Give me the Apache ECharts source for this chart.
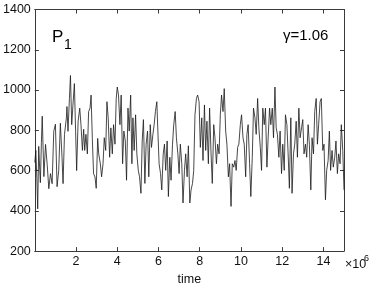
<!DOCTYPE html>
<html>
<head>
<meta charset="utf-8">
<script src="https://cdn.jsdelivr.net/npm/echarts@6/dist/echarts.min.js"></script>
<style>
html,body{margin:0;padding:0;background:#fff;}
#c{width:374px;height:291px;}
</style>
</head>
<body>
<div id="c"></div>
<script>
// time in units of 10^6
var times = [0.00,0.05,0.10,0.14,0.19,0.24,0.27,0.32,0.36,0.44,0.52,0.60,0.68,0.76,0.84,0.92,1.00,1.08,1.16,1.24,1.32,1.37,1.44,1.53,1.56,1.61,1.68,1.73,1.79,1.85,1.92,1.98,2.03,2.10,2.18,2.24,2.31,2.37,2.42,2.48,2.55,2.61,2.68,2.73,2.79,2.85,2.92,2.98,3.05,3.10,3.18,3.24,3.31,3.37,3.44,3.50,3.56,3.63,3.69,3.76,3.82,3.89,3.95,4.00,4.06,4.13,4.19,4.26,4.32,4.39,4.45,4.52,4.58,4.65,4.71,4.76,4.82,4.89,4.95,5.02,5.08,5.15,5.21,5.27,5.34,5.40,5.47,5.53,5.60,5.66,5.73,5.79,5.85,5.92,5.97,6.03,6.10,6.16,6.23,6.29,6.35,6.42,6.48,6.55,6.61,6.68,6.74,6.81,6.87,6.94,7.00,7.06,7.13,7.19,7.26,7.32,7.39,7.45,7.52,7.58,7.65,7.71,7.77,7.84,7.90,7.97,8.03,8.10,8.16,8.23,8.29,8.35,8.42,8.48,8.55,8.61,8.68,8.74,8.81,8.87,8.94,9.00,9.06,9.13,9.19,9.26,9.32,9.39,9.45,9.52,9.58,9.65,9.71,9.77,9.84,9.90,9.97,10.03,10.10,10.16,10.23,10.29,10.35,10.42,10.48,10.55,10.61,10.68,10.74,10.81,10.87,10.94,11.00,11.06,11.13,11.19,11.26,11.32,11.39,11.45,11.52,11.58,11.65,11.71,11.77,11.84,11.90,11.97,12.03,12.10,12.16,12.23,12.29,12.35,12.42,12.48,12.55,12.61,12.68,12.74,12.81,12.87,12.94,13.00,13.06,13.13,13.19,13.26,13.32,13.39,13.45,13.52,13.58,13.65,13.71,13.77,13.84,13.90,13.97,14.03,14.10,14.16,14.23,14.29,14.35,14.42,14.48,14.55,14.61,14.68,14.74,14.81,14.87,14.94,15.00];
var p1 = [640,700,560,410,720,600,540,740,870,570,730,630,510,585,535,795,830,520,600,835,665,535,780,860,918,795,958,1072,828,925,1032,795,600,845,910,828,700,805,700,780,683,893,910,975,760,585,568,512,760,683,634,569,634,763,700,942,862,666,812,683,828,731,958,1015,975,828,975,634,796,747,552,910,796,975,634,862,700,877,683,601,569,487,747,853,536,731,796,569,828,715,780,828,893,942,796,634,585,504,683,731,601,747,471,666,552,731,828,893,763,683,585,731,634,439,601,683,569,723,439,504,536,601,877,958,975,942,715,862,650,926,700,845,634,910,683,536,828,763,634,731,683,877,975,893,1007,796,731,569,634,422,634,617,650,601,715,731,828,877,763,731,569,780,828,634,471,666,910,862,780,958,812,715,601,910,828,910,617,763,910,828,910,763,1015,812,780,666,796,585,731,601,877,828,683,512,862,487,683,731,845,666,910,763,812,853,683,731,666,828,731,504,763,683,893,958,731,828,942,958,700,731,455,601,650,796,601,700,617,666,747,585,683,634,828,700,504];
var xTicks = [2,4,6,8,10,12,14];
var yTicks = [200,400,600,800,1000,1200,1400];

var FONT = 'Liberation Sans, Arial, Helvetica, sans-serif';
var data = times.map(function(t,i){return [t,p1[i]];});
var chart = echarts.init(document.getElementById('c'), null, {renderer:'canvas'});
var axisLineStyle = {color:'#3a3a3a', width:1};
function xAx(pos, show){
  return {
    type:'value', position:pos, min:0, max:15, interval:2,
    axisLine:{show:true, onZero:false, lineStyle:axisLineStyle},
    axisTick:{show:true, inside:true, length:4, lineStyle:axisLineStyle},
    splitLine:{show:false},
    axisLabel:{show:show, color:'#111', fontFamily:FONT, fontSize:12.5, margin:4,
      showMinLabel:false, showMaxLabel:false,
      formatter:function(v){return xTicks.indexOf(v)>=0 ? String(v) : '';}},
    name: show ? 'time' : '', nameLocation:'middle', nameGap:21,
    nameTextStyle:{color:'#111', fontFamily:FONT, fontSize:12.5}
  };
}
function yAx(pos, show){
  return {
    type:'value', position:pos, min:200, max:1400, interval:200,
    axisLine:{show:true, onZero:false, lineStyle:axisLineStyle},
    axisTick:{show:true, inside:true, length:4, lineStyle:axisLineStyle},
    splitLine:{show:false},
    axisLabel:{show:show, color:'#111', fontFamily:FONT, fontSize:12.5, margin:4,
      formatter:function(v){return yTicks.indexOf(v)>=0 ? String(v) : '';}}
  };
}
chart.setOption({
  animation:false,
  backgroundColor:'#fff',
  grid:{left:31, right:30, top:9.5, bottom:35.5, containLabel:false},
  xAxis:[xAx('bottom',true), xAx('top',false)],
  yAxis:[yAx('left',true), yAx('right',false)],
  series:[{
    type:'line', xAxisIndex:0, yAxisIndex:0, data:data,
    showSymbol:false, symbol:'none', smooth:false,
    lineStyle:{color:'#1a1a1a', width:0.8}
  }],
  graphic:[
    {type:'text', x:52, y:37, style:{text:'P', font:'17px '+FONT, fill:'#000', verticalAlign:'middle'}},
    {type:'text', x:64, y:45, style:{text:'1', font:'14px '+FONT, fill:'#000', verticalAlign:'middle'}},
    {type:'text', x:283, y:36, style:{text:'γ=1.06', font:'15px '+FONT, fill:'#000', verticalAlign:'middle'}},
    {type:'text', x:345, y:265, style:{text:'×10', font:'12.5px '+FONT, fill:'#111', verticalAlign:'middle'}},
    {type:'text', x:364, y:259, style:{text:'6', font:'9px '+FONT, fill:'#111', verticalAlign:'middle'}}
  ]
});
</script>
</body>
</html>
